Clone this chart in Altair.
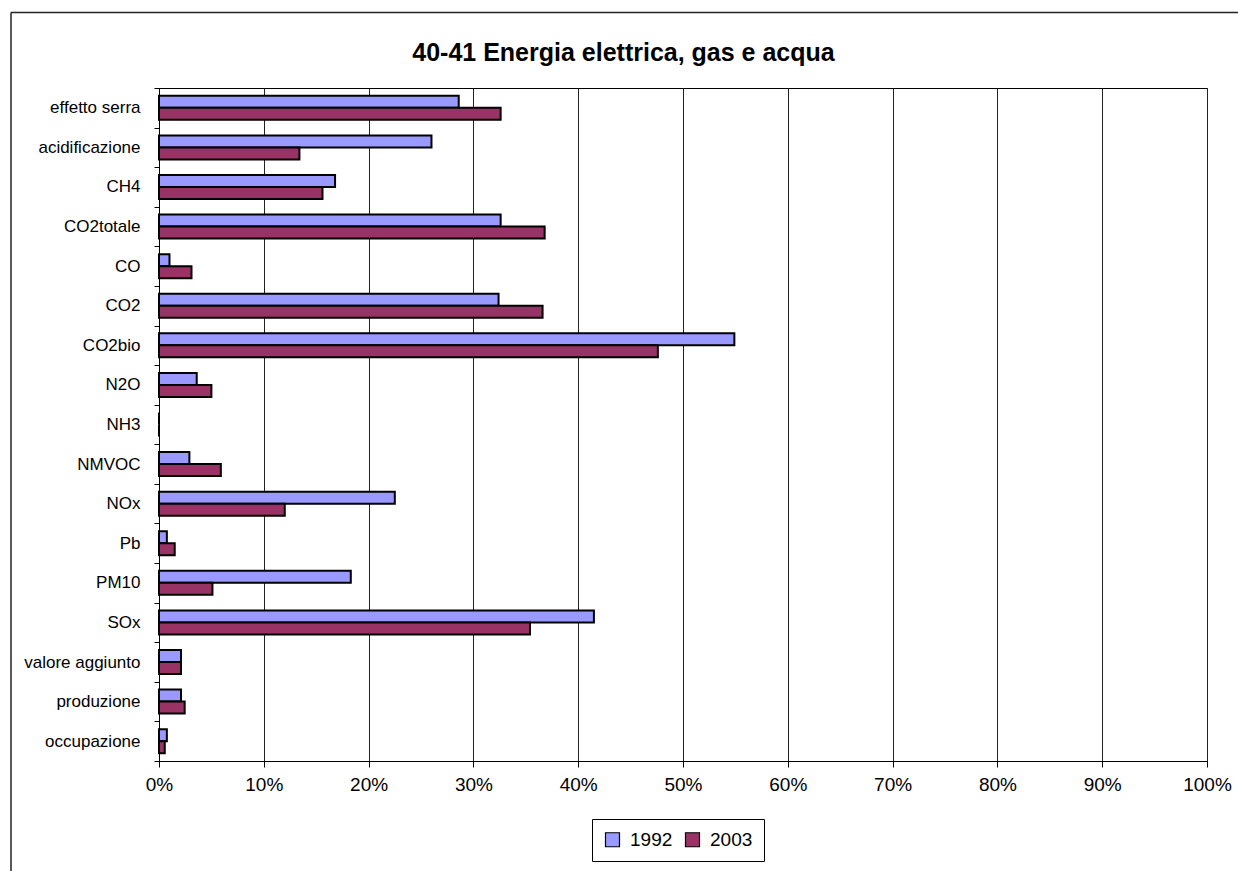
import altair as alt
import pandas as pd

# Categories, top to bottom
categories = [
    "effetto serra", "acidificazione", "CH4", "CO2totale", "CO", "CO2",
    "CO2bio", "N2O", "NH3", "NMVOC", "NOx", "Pb", "PM10", "SOx",
    "valore aggiunto", "produzione", "occupazione",
]
# Shares (%) for each year
share_1992 = [28.6, 26.0, 16.8, 32.6, 1.0, 32.4, 54.9, 3.6, 0.0, 2.9, 22.5,
              0.75, 18.3, 41.5, 2.1, 2.1, 0.75]
share_2003 = [32.6, 13.4, 15.6, 36.8, 3.1, 36.6, 47.6, 5.0, 0.0, 5.9, 12.0,
              1.5, 5.1, 35.4, 2.1, 2.45, 0.55]
years = ["1992", "2003"]
colors = ["#9999FF", "#993366"]
x_ticks = [i / 10 for i in range(11)]
title_text = "40-41 Energia elettrica, gas e acqua"

rows = []
for cat, a, b in zip(categories, share_1992, share_2003):
    rows.append({"categoria": cat, "anno": "1992", "quota": a / 100})
    rows.append({"categoria": cat, "anno": "2003", "quota": b / 100})
df = pd.DataFrame(rows)

FONT = "Liberation Sans"
W, H = 1048, 673
LEFT, TOP = 159, 88

bars = alt.Chart(df).mark_bar(stroke="black", strokeWidth=2).encode(
    y=alt.Y(
        "categoria:N",
        sort=categories,
        title=None,
        scale=alt.Scale(paddingInner=0, paddingOuter=0),
        axis=alt.Axis(
            tickBand="extent", ticks=True, tickSize=5, tickColor="black",
            domainColor="black", labelFontSize=17, labelFont=FONT,
            labelColor="black", labelPadding=14, grid=False,
        ),
    ),
    yOffset=alt.YOffset(
        "anno:N", sort=years,
        scale=alt.Scale(paddingInner=0, paddingOuter=0.65),
    ),
    x=alt.X(
        "quota:Q",
        title=None,
        scale=alt.Scale(domain=[0, 1], nice=False),
        axis=alt.Axis(
            values=x_ticks, format=".0%", grid=True, gridColor="#222",
            gridWidth=1, tickSize=6, tickColor="black", domainColor="black",
            labelFontSize=19, labelFont=FONT, labelColor="black",
            labelPadding=8, labelFlush=False,
        ),
    ),
    color=alt.Color(
        "anno:N",
        scale=alt.Scale(domain=years, range=colors),
        legend=alt.Legend(
            title=None, orient="none", direction="horizontal",
            legendX=433, legendY=731, symbolType="square", symbolSize=196,
            symbolStrokeColor="black", symbolStrokeWidth=1.2,
            labelFontSize=19, labelFont=FONT, labelColor="black",
            labelOffset=8, columnPadding=10, padding=11,
            strokeColor="black", fillColor="white",
        ),
    ),
)

title = alt.Chart(pd.DataFrame({"t": [title_text]})).mark_text(
    font=FONT, fontSize=25, fontWeight="bold", color="black",
    align="center", baseline="alphabetic",
).encode(
    text="t:N",
    x=alt.value(623.5 - LEFT),
    y=alt.value(61 - TOP),
)

# Outer chart frame: only its left and top edges fall inside the page
frame_df = pd.DataFrame({"f": [0]})
frame_left = alt.Chart(frame_df).mark_rule(
    stroke="#222", strokeWidth=1.5, clip=False,
).encode(
    x=alt.value(11 - LEFT),
    y=alt.value(12.5 - TOP),
    y2=alt.value(871 - TOP),
)
frame_top = alt.Chart(frame_df).mark_rule(
    stroke="#222", strokeWidth=1.5, clip=False,
).encode(
    x=alt.value(11 - LEFT),
    x2=alt.value(1238 - LEFT),
    y=alt.value(12.5 - TOP),
)

chart = alt.layer(frame_left, frame_top, bars, title).properties(
    width=W,
    height=H,
    padding={"left": LEFT, "top": TOP, "right": 1238 - LEFT - W,
             "bottom": 871 - TOP - H},
    autosize=alt.AutoSizeParams(type="none"),
    background="white",
).configure_view(stroke="black", strokeWidth=1)

chart.save("out.html", embed_options={"renderer": "svg", "actions": False})
